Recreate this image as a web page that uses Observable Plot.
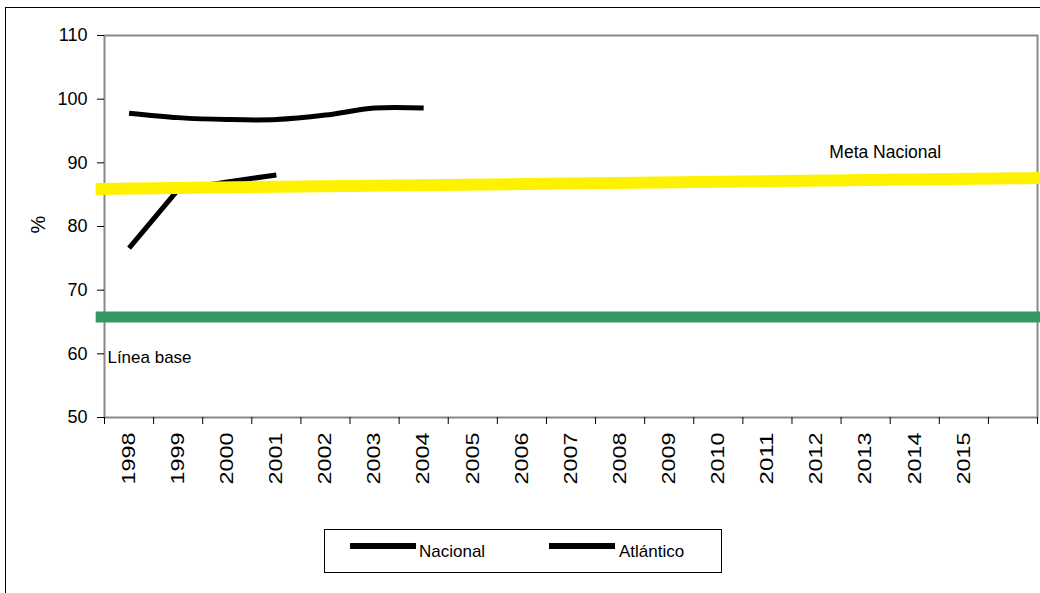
<!DOCTYPE html>
<html>
<head>
<meta charset="utf-8">
<script src="https://cdn.jsdelivr.net/npm/d3@7"></script>
<script src="https://cdn.jsdelivr.net/npm/@observablehq/plot@0.6"></script>
<style>
  html, body { margin: 0; padding: 0; background: #fff; width: 1040px; height: 593px; overflow: hidden; }
  #wrap { position: relative; width: 1040px; height: 593px; font-family: "Liberation Sans", Arial, sans-serif; }
  #outer { position: absolute; left: 5px; top: 7px; width: 1100px; height: 700px; border: 1px solid #000; box-sizing: border-box; }
  #chart { position: absolute; left: 0; top: 0; }
  #legend { position: absolute; left: 324px; top: 529px; width: 398px; height: 44px; border: 1px solid #000; box-sizing: border-box; background: #fff; font-size: 17px; color: #000; }
  .sw { position: absolute; height: 6px; background: #000; top: 13px; }
  .lt { position: absolute; top: 12px; line-height: 20px; }
</style>
</head>
<body>
<div id="wrap">
  <div id="outer"></div>
  <div id="chart"></div>
  <div id="legend">
    <div class="sw" style="left:25px;width:66px"></div><div class="lt" style="left:94px">Nacional</div>
    <div class="sw" style="left:224px;width:66px"></div><div class="lt" style="left:294px">Atlántico</div>
  </div>
</div>
<script>
// Tick labels / categories
const years = [1998,1999,2000,2001,2002,2003,2004,2005,2006,2007,2008,2009,2010,2011,2012,2013,2014,2015];
const yTicks = [50,60,70,80,90,100,110];

// Series
const nacionalYears = [1998,1999,2000,2001,2002,2003,2004];
const nacionalValues = [97.8, 97.1, 96.8, 96.8, 97.5, 98.6, 98.6];
const atlanticoYears = [1998,1999,2000,2001];
const atlanticoValues = [76.6, 85.8, 87.0, 88.1];

// Reference lines (meta nacional, línea base)
const metaYears = [1997.32, 2016.56];
const metaValues = [85.9, 87.6];
const baseYears = [1997.32, 2016.56];
const baseValues = [65.8, 65.8];

const nacional = nacionalYears.map((x, i) => ({x, y: nacionalValues[i]}));
const atlantico = atlanticoYears.map((x, i) => ({x, y: atlanticoValues[i]}));
const meta = metaYears.map((x, i) => ({x, y: metaValues[i]}));
const base = baseYears.map((x, i) => ({x, y: baseValues[i]}));
const bandEdges = d3.range(1997.5, 2017, 1);

const chart = Plot.plot({
  width: 1040,
  height: 593,
  marginLeft: 104,
  marginRight: 3,
  marginTop: 35,
  marginBottom: 176,
  style: {fontFamily: "Liberation Sans, Arial, sans-serif", fontSize: "18px", color: "#000", background: "transparent"},
  x: {type: "linear", domain: [1997.5, 2016.5]},
  y: {domain: [50, 110]},
  marks: [
    Plot.frame({stroke: "#888", strokeWidth: 2}),
    Plot.axisY({ticks: yTicks, tickSize: 7, tickPadding: 10, label: null}),
    Plot.axisX({ticks: bandEdges, tickSize: 7, tickFormat: () => "", label: null}),
    Plot.axisX({ticks: years, tickSize: 0, tickRotate: -90, tickPadding: 15, tickFormat: d => String(d), label: null, className: "yr"}),
    Plot.line(base, {x: "x", y: "y", stroke: "#339966", strokeWidth: 11, strokeLinecap: "butt"}),
    Plot.line(atlantico, {x: "x", y: "y", stroke: "#000", strokeWidth: 5, strokeLinecap: "butt"}),
    Plot.line(meta, {x: "x", y: "y", stroke: "#fff200", strokeWidth: 12, strokeLinecap: "butt"}),
    Plot.line(nacional, {x: "x", y: "y", stroke: "#000", strokeWidth: 5, curve: "catmull-rom", strokeLinecap: "butt"}),
    Plot.text(["%"], {x: () => 1997.5, y: () => 80.3, dx: -66, rotate: -90, fontSize: 20}),
    Plot.text(["Línea base"], {x: 1997.56, y: 59.4, textAnchor: "start", fontSize: 17}),
    Plot.text(["Meta Nacional"], {x: 2013.4, y: 91.6, fontSize: 17.5})
  ]
});
d3.select(chart).selectAll("g.yr text")
  .attr("textLength", 52)
  .attr("lengthAdjust", "spacingAndGlyphs");
document.getElementById("chart").appendChild(chart);
</script>
</body>
</html>
